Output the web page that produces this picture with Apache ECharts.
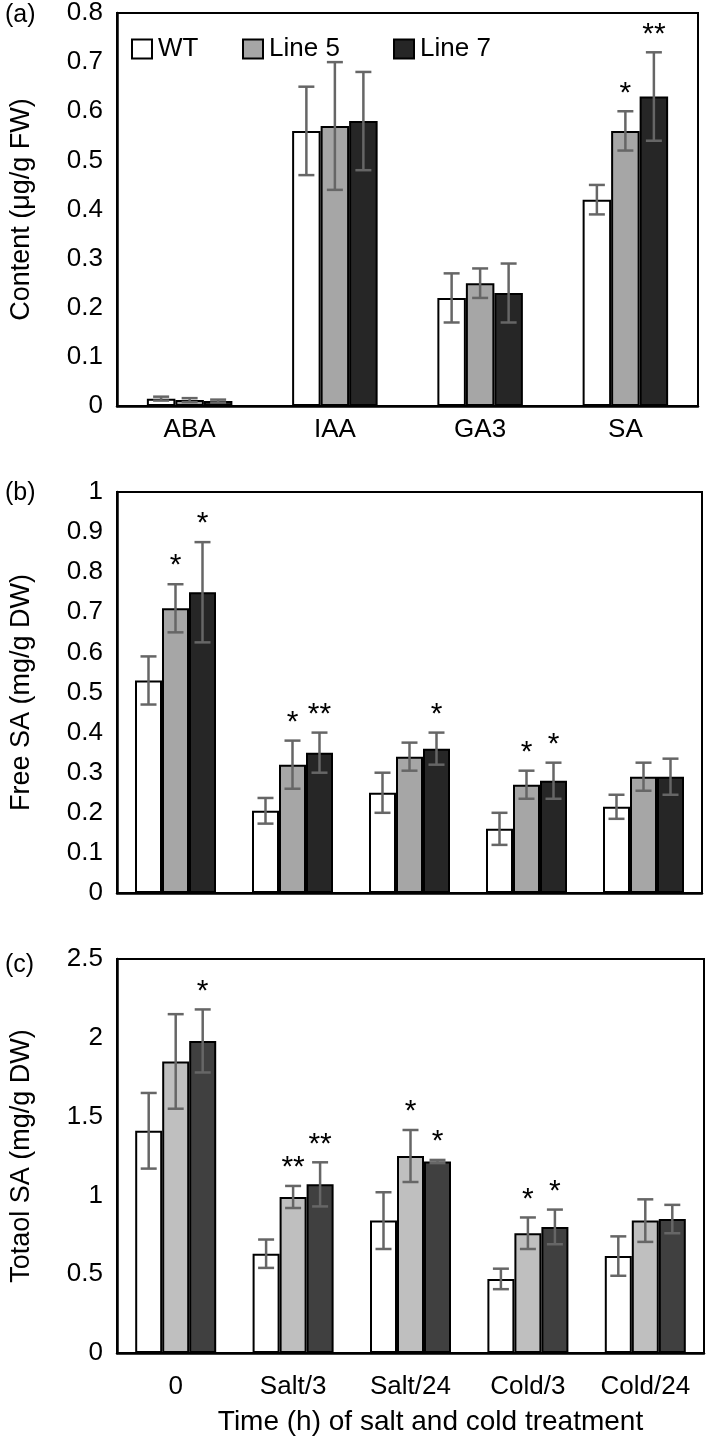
<!DOCTYPE html>
<html>
<head>
<meta charset="utf-8">
<script src="https://cdn.jsdelivr.net/npm/echarts@6/dist/echarts.min.js"></script>
<style>html,body{margin:0;padding:0;background:#fff;}#chart{width:709px;height:1437px;}</style>
</head>
<body>
<div id="chart"></div>
<script>
// ---------- Data ----------
const seriesNames = ['WT', 'Line 5', 'Line 7'];

// Panel (a): hormone content (µg/g FW)
const catsA = ['ABA', 'IAA', 'GA3', 'SA'];
const aWT = [0.015, 0.56, 0.22, 0.42];
const aWTerr = [0.004, 0.09, 0.05, 0.03];
const aL5 = [0.012, 0.57, 0.25, 0.56];
const aL5err = [0.004, 0.13, 0.03, 0.04];
const aL7 = [0.010, 0.58, 0.23, 0.63];
const aL7err = [0.003, 0.10, 0.06, 0.09];
const aStarsWT = ['', '', '', ''];
const aStarsL5 = ['', '', '', '*'];
const aStarsL7 = ['', '', '', '**'];

// Panels (b), (c): treatments
const catsBC = ['0', 'Salt/3', 'Salt/24', 'Cold/3', 'Cold/24'];

// Panel (b): free SA (mg/g DW)
const bWT = [0.53, 0.205, 0.25, 0.16, 0.215];
const bWTerr = [0.06, 0.032, 0.05, 0.04, 0.03];
const bL5 = [0.71, 0.32, 0.34, 0.27, 0.29];
const bL5err = [0.06, 0.06, 0.035, 0.035, 0.035];
const bL7 = [0.75, 0.35, 0.36, 0.28, 0.29];
const bL7err = [0.125, 0.05, 0.04, 0.045, 0.045];
const bStarsWT = ['', '', '', '', ''];
const bStarsL5 = ['*', '*', '', '*', ''];
const bStarsL7 = ['*', '**', '*', '*', ''];

// Panel (c): total SA (mg/g DW)
const cWT = [1.41, 0.63, 0.84, 0.47, 0.615];
const cWTerr = [0.24, 0.09, 0.18, 0.065, 0.125];
const cL5 = [1.85, 0.99, 1.25, 0.76, 0.84];
const cL5err = [0.30, 0.07, 0.165, 0.10, 0.135];
const cL7 = [1.98, 1.07, 1.215, 0.80, 0.85];
const cL7err = [0.20, 0.14, 0.01, 0.11, 0.09];
const cStarsWT = ['', '', '', '', ''];
const cStarsL5 = ['', '**', '*', '*', ''];
const cStarsL7 = ['*', '**', '*', '*', ''];

// Axis settings
const yA = {max: 0.8, interval: 0.1, name: 'Content (μg/g FW)'};
const yB = {max: 1, interval: 0.1, name: 'Free SA (mg/g DW)'};
const yC = {max: 2.5, interval: 0.5, name: 'Totaol SA (mg/g DW)'};
const xTitleC = 'Time (h) of salt and cold treatment';

// ---------- Styles ----------
const FONT = '"Liberation Sans", Arial, Helvetica, sans-serif';
const colorsAB = ['#ffffff', '#a6a6a6', '#262626'];
const colorsC = ['#ffffff', '#bfbfbf', '#404040'];
const ERR = '#666666';

const grids = [
  {left: 103, top: 13, width: 595, height: 393},
  {left: 104, top: 492, width: 598, height: 401},
  {left: 105, top: 959, width: 599, height: 395}
];
const barWs = [28.5, 27, 27];

const panels = [
  {cats: catsA, vals: [aWT, aL5, aL7], errs: [aWTerr, aL5err, aL7err], stars: [aStarsWT, aStarsL5, aStarsL7], colors: colorsAB, y: yA},
  {cats: catsBC, vals: [bWT, bL5, bL7], errs: [bWTerr, bL5err, bL7err], stars: [bStarsWT, bStarsL5, bStarsL7], colors: colorsAB, y: yB},
  {cats: catsBC, vals: [cWT, cL5, cL7], errs: [cWTerr, cL5err, cL7err], stars: [cStarsWT, cStarsL5, cStarsL7], colors: colorsC, y: yC}
];

const xAxes = [], yAxes = [], series = [];
panels.forEach((p, pi) => {
  xAxes.push({
    type: 'category', gridIndex: pi, data: p.cats,
    axisLine: {show: true, lineStyle: {color: '#000', width: 2.5}},
    axisTick: {show: false},
    axisLabel: {show: pi !== 1, color: '#000', fontSize: 26, fontFamily: FONT, margin: pi === 0 ? 11 : 21, interval: 0},
    name: pi === 2 ? xTitleC : '',
    nameLocation: 'middle', nameGap: 55,
    nameTextStyle: {color: '#000', fontSize: 28, fontFamily: FONT, padding: [0, 0, 0, 40]}
  });
  yAxes.push({
    type: 'value', gridIndex: pi, min: 0, max: p.y.max, interval: p.y.interval,
    axisLine: {show: true, lineStyle: {color: '#000', width: 2.5}},
    axisTick: {show: false},
    splitLine: {show: false},
    axisLabel: {color: '#000', fontSize: 26, fontFamily: FONT, margin: 14},
    name: p.y.name, nameLocation: 'middle', nameGap: 82,
    nameTextStyle: {color: '#000', fontSize: 27, fontFamily: FONT}
  });
  const bw = barWs[pi];
  for (let s = 0; s < 3; s++) {
    series.push({
      type: 'bar', name: seriesNames[s], xAxisIndex: pi, yAxisIndex: pi,
      data: p.vals[s], barWidth: bw, barGap: '0%',
      itemStyle: {color: p.colors[s], borderColor: '#000', borderWidth: 2},
      silent: true, z: 2
    });
  }
  for (let s = 0; s < 3; s++) {
    const off = (s - 1) * bw;
    const stars = p.stars[s];
    series.push({
      type: 'custom', name: 'err' + pi + s, xAxisIndex: pi, yAxisIndex: pi,
      data: p.cats.map((c, i) => [i, p.vals[s][i], p.errs[s][i]]),
      silent: true, z: 10,
      renderItem: function (params, api) {
        const ci = api.value(0), v = api.value(1), e = api.value(2);
        const x = api.coord([ci, v])[0] + off;
        const yt = api.coord([ci, v + e])[1];
        const yb = api.coord([ci, Math.max(0, v - e)])[1];
        const cap = 8;
        const ls = {stroke: ERR, lineWidth: 2.5};
        const children = [
          {type: 'line', shape: {x1: x, y1: yt, x2: x, y2: yb}, style: ls},
          {type: 'line', shape: {x1: x - cap, y1: yt, x2: x + cap, y2: yt}, style: ls},
          {type: 'line', shape: {x1: x - cap, y1: yb, x2: x + cap, y2: yb}, style: ls}
        ];
        const st = stars[params.dataIndex];
        if (st) {
          children.push({type: 'text', style: {text: st, x: x, y: yt - 18, align: 'center', verticalAlign: 'middle', fontSize: 30, fill: '#000', fontFamily: FONT}});
        }
        return {type: 'group', children: children};
      }
    });
  }
});

const legendBase = {
  orient: 'horizontal', top: 31, itemWidth: 20, itemHeight: 19, itemGap: 0,
  icon: 'rect', selectedMode: false,
  itemStyle: {borderColor: '#000', borderWidth: 2},
  textStyle: {color: '#000', fontSize: 26, fontFamily: FONT, padding: [0, 0, 0, 1]}
};
const legends = [
  Object.assign({}, legendBase, {left: 126, data: ['WT']}),
  Object.assign({}, legendBase, {left: 237, data: ['Line 5']}),
  Object.assign({}, legendBase, {left: 388, data: ['Line 7']})
];

const titleStyle = {color: '#000', fontSize: 25, fontWeight: 'normal', fontFamily: FONT};
const option = {
  backgroundColor: '#fff',
  animation: false,
  title: [
    {text: '(a)', left: 5, top: 3, padding: 0, textStyle: titleStyle},
    {text: '(b)', left: 5, top: 481, padding: 0, textStyle: titleStyle},
    {text: '(c)', left: 5, top: 953, padding: 0, textStyle: titleStyle}
  ],
  legend: legends,
  grid: grids.map(g => Object.assign({show: true, borderColor: '#000', borderWidth: 2, backgroundColor: 'transparent'}, g)),
  xAxis: xAxes,
  yAxis: yAxes,
  series: series
};

const chart = echarts.init(document.getElementById('chart'), null, {renderer: 'canvas', width: 709, height: 1437});
chart.setOption(option);
</script>
</body>
</html>
